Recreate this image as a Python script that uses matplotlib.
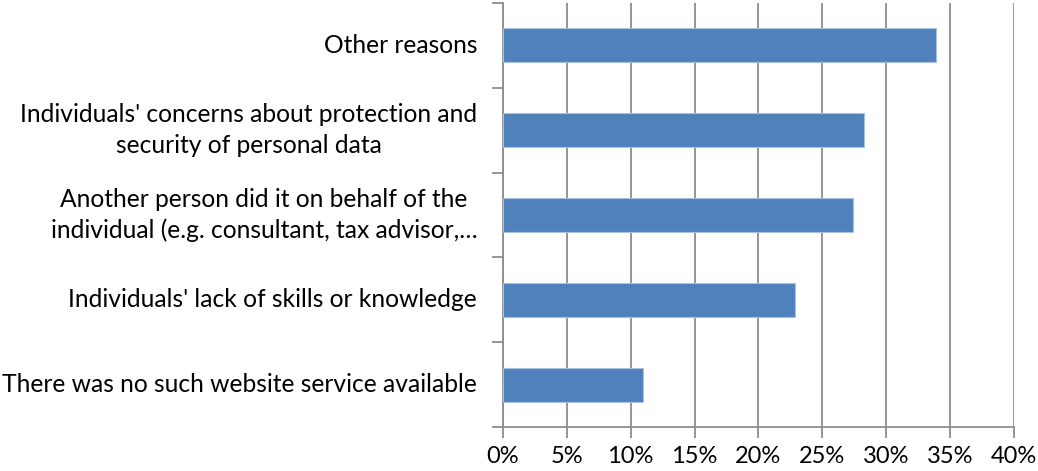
import matplotlib
matplotlib.use("Agg")
import matplotlib.pyplot as plt
from matplotlib.ticker import FixedLocator, NullFormatter

categories = [
    "Other reasons",
    "Individuals' concerns about protection and\nsecurity of personal data",
    "Another person did it on behalf of the\nindividual (e.g. consultant, tax advisor,…",
    "Individuals' lack of skills or knowledge",
    "There was no such website service available",
]
values = [33.9, 28.3, 27.4, 22.9, 11.0]
xticks = [0, 5, 10, 15, 20, 25, 30, 35, 40]
xticklabels = ["0%", "5%", "10%", "15%", "20%", "25%", "30%", "35%", "40%"]

plt.rcParams['font.family'] = ['Lato', 'DejaVu Sans']

W, H = 1038, 471
fig = plt.figure(figsize=(W / 100, H / 100), dpi=100)
left, right, top, bottom = 502.8, 1014, 3, 427
ax = fig.add_axes([left / W, 1 - bottom / H, (right - left) / W, (bottom - top) / H])

n = len(categories)
ypos = list(range(n))[::-1]
ax.barh(ypos, values, height=0.4, color="#4F81BD", edgecolor="#A9C1DF", linewidth=0.8, zorder=3)

ax.set_xlim(0, 40)
ax.set_ylim(-0.5, n - 0.5)
ax.set_xticks(xticks)
ax.set_xticklabels(xticklabels, fontsize=17, color="black")
ax.xaxis.grid(True, color="#8C8C8C", linewidth=1.3, zorder=0)

ax.yaxis.set_major_locator(FixedLocator([i - 0.5 for i in range(n + 1)]))
ax.yaxis.set_major_formatter(NullFormatter())
ax.tick_params(axis='y', which='major', length=8, width=1.3, color="#8C8C8C", direction='out')
ax.tick_params(axis='x', which='major', length=8, width=1.3, color="#8C8C8C", direction='out', pad=6)

for y, lab in zip(ypos, categories):
    ax.text(-2.0, y, lab, ha='right', va='center', multialignment='center',
            fontsize=17.7, color="black", transform=ax.transData, linespacing=1.42)

for s in ['top', 'right']:
    ax.spines[s].set_visible(False)
for s in ['left', 'bottom']:
    ax.spines[s].set_color("#8C8C8C")
    ax.spines[s].set_linewidth(1.3)

fig.savefig("out.png", dpi=100)
